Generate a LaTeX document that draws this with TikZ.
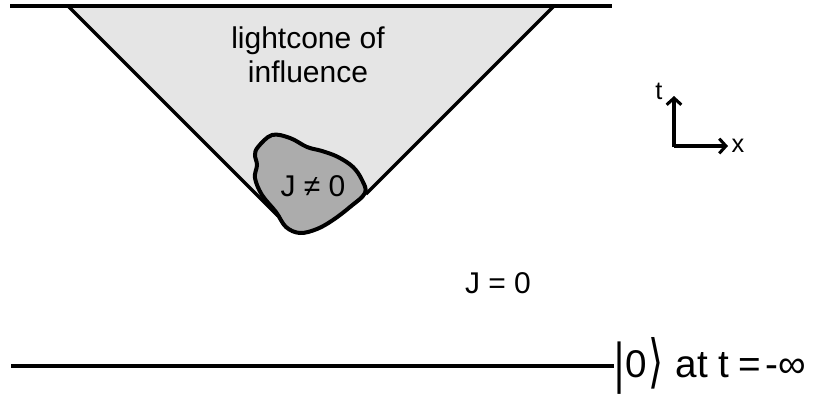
\documentclass[tikz,border=0pt]{standalone}
\usepackage{fontspec}
\setmainfont{Liberation Sans}
\newfontfamily\dvfont{DejaVu Sans}
\usetikzlibrary{arrows.meta}
\begin{document}
\begin{tikzpicture}[x=0.75pt,y=-0.75pt,
  thickline/.style={line width=2.4pt,line cap=butt},
  axisline/.style={line width=2.3pt,-{Straight Barb[length=5pt,width=11pt,line width=2.3pt]}},
  lbl/.style={inner sep=0pt,text=black}]
\useasboundingbox (0,0) rectangle (826,394);
% cone
\coordinate (cl) at (68,6);
\coordinate (cr) at (554,6);
\coordinate (bl) at (278,216);
\coordinate (br) at (366,194);
\fill[gray!20] (cl) -- (bl) -- (300,233) -- (br) -- (cr) -- cycle;
\draw[thickline] (cl) -- (bl);
\draw[thickline] (cr) -- (br);
% blob
\draw[line width=3pt,fill=gray!65] plot[smooth cycle,tension=0.6] coordinates {
 (258,147) (272,135) (290,138) (307,147) (322,151) (338,157) (353,167)
 (362,180) (365,193) (350,207) (333,220) (317,229) (300,233) (286,227)
 (276,212) (262,195) (255,178) (257,165) (255,155)};
% top and bottom lines
\coordinate (tl) at (10,6);
\coordinate (tr) at (612,6);
\draw[thickline] (tl) -- (tr);
\coordinate (bbl) at (11,366);
\node[lbl,anchor=west,font=\fontsize{29}{31}\selectfont] (vac) at (614,366)
  {\raisebox{-0.12em}{\scalebox{1}[1.45]{|}}\hspace{0.04em}0\hspace{0.03em}\raisebox{-0.1em}{\scalebox{1}[1.5]{\dvfont ⟩}}\hspace{0.32em}at t\hspace{0.22em}=\hspace{0.12em}-∞};
\draw[thickline] (bbl) -- (vac.west);
% labels
\node[lbl,align=center,font=\fontsize{22.5}{25.5}\selectfont] (cone) at (308,55) {lightcone of\\influence};
\node[lbl,font=\fontsize{22.5}{24}\selectfont] (jn) at (313,186) {J ≠ 0};
\node[lbl,font=\fontsize{22.5}{24}\selectfont] (jz) at (498,283) {J = 0};
% axes
\coordinate (o) at (674,146);
\coordinate (tt) at (674,96);
\coordinate (xx) at (728,146);
\draw[axisline,line cap=butt] ([yshift=-1.1pt]o) -- (tt);
\draw[axisline] (o) -- (xx);
\node[lbl,font=\fontsize{19}{20}\selectfont] (tl2) at (659,91) {t};
\node[lbl,font=\fontsize{19}{20}\selectfont] (xl) at (738,146) {x};
\end{tikzpicture}
\end{document}
